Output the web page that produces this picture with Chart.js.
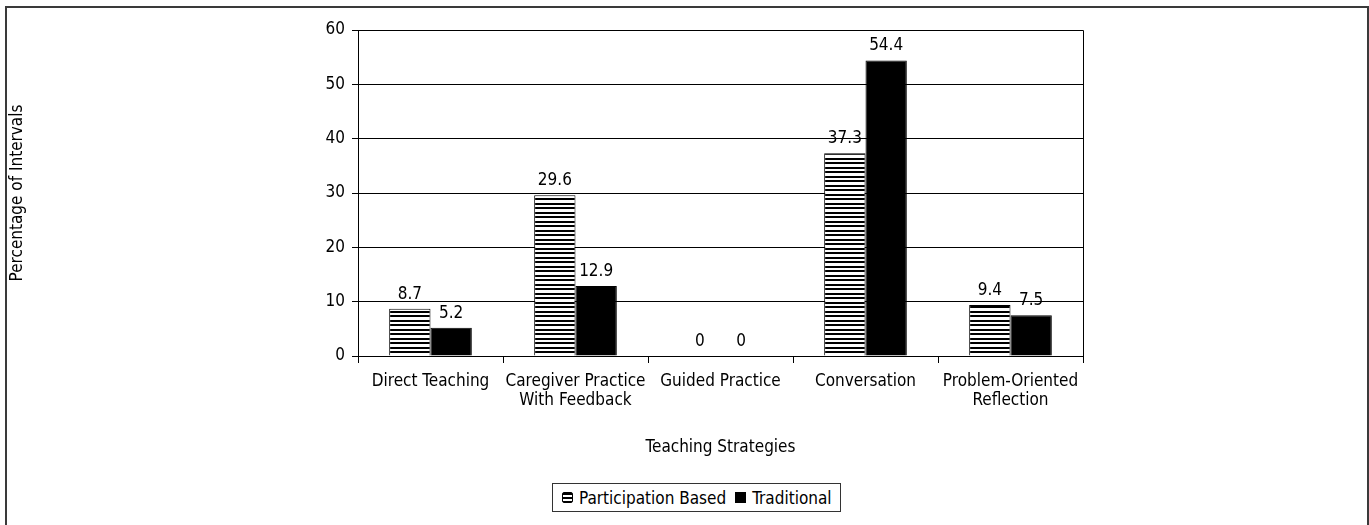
<!DOCTYPE html>
<html>
<head>
<meta charset="utf-8">
<script src="https://cdn.jsdelivr.net/npm/chart.js@4/dist/chart.umd.min.js"></script>
<style>
    html, body { margin: 0; padding: 0; background: #fff; }
    body { width: 1369px; height: 525px; position: relative; overflow: hidden; }
    .frame { position: absolute; left: 5px; top: 6px; width: 1360px; height: 600px; border: 2px solid #3a3a3a; }
    #chart { position: absolute; left: 0; top: 0; }
    .legend {
        position: absolute; left: 552px; top: 483px; height: 27px;
        border: 1px solid #333; background: #fff;
        display: flex; align-items: center; padding: 0 8px 0 9px;
        font: 17px 'DejaVu Sans Condensed', 'Liberation Sans Narrow', sans-serif; color: #000;
    }
    .legend .sw { width: 9px; height: 9px; border: 1px solid #000; margin-right: 6px; }
    .legend .striped { background: repeating-linear-gradient(#000 0 2px, #fff 2px 4px); border-radius: 2px; }
    .legend .solid { background: #000; margin-left: 9px; }
</style>
</head>
<body>
<div class="frame"></div>
<canvas id="chart" width="1369" height="525"></canvas>
<div class="legend">
    <span class="sw striped"></span><span>Participation Based</span>
    <span class="sw solid"></span><span>Traditional</span>
</div>
<script>
// values
const categories = ['Direct Teaching', ['Caregiver Practice', 'With Feedback'], 'Guided Practice', 'Conversation', ['Problem-Oriented', 'Reflection']];
const participation = [8.7, 29.6, 0, 37.3, 9.4];
const traditional = [5.2, 12.9, 0, 54.4, 7.5];
const yTicks = [0, 10, 20, 30, 40, 50, 60];

const FONT = "'DejaVu Sans Condensed', 'Liberation Sans Narrow', sans-serif";
const SIZE = 17;

// horizontal stripes for the first series
function stripes() {
    const c = document.createElement('canvas');
    c.width = 9; c.height = 9;
    const g = c.getContext('2d');
    g.fillStyle = '#fff';
    g.fillRect(0, 0, 9, 9);
    g.fillStyle = '#000';
    g.fillRect(0, 0, 9, 2);
    g.fillRect(0, 5, 9, 2);
    return g.createPattern(c, 'repeat');
}

// value above each bar
const valueLabels = {
    id: 'valueLabels',
    afterDatasetsDraw(chart) {
        const ctx = chart.ctx;
        ctx.save();
        ctx.font = SIZE + 'px ' + FONT;
        ctx.fillStyle = '#000';
        ctx.textAlign = 'center';
        ctx.textBaseline = 'alphabetic';
        chart.data.datasets.forEach((ds, i) => {
            chart.getDatasetMeta(i).data.forEach((bar, j) => {
                ctx.fillText(String(ds.data[j]), bar.x, bar.y - 10);
            });
        });
        ctx.restore();
    }
};

// top and right edge of the plot
const plotFrame = {
    id: 'plotFrame',
    afterDraw(chart) {
        const a = chart.chartArea, ctx = chart.ctx;
        ctx.save();
        ctx.strokeStyle = '#000';
        ctx.lineWidth = 1;
        ctx.beginPath();
        ctx.moveTo(a.left, a.top + 0.5);
        ctx.lineTo(a.right + 0.5, a.top + 0.5);
        ctx.lineTo(a.right + 0.5, a.bottom);
        ctx.stroke();
        ctx.restore();
    }
};

new Chart(document.getElementById('chart'), {
    type: 'bar',
    data: {
        labels: categories,
        datasets: [
            { label: 'Participation Based', data: participation, backgroundColor: stripes(), borderColor: '#000', borderWidth: 1 },
            { label: 'Traditional', data: traditional, backgroundColor: '#000', borderColor: '#000', borderWidth: 1 }
        ]
    },
    options: {
        responsive: false,
        animation: false,
        events: [],
        categoryPercentage: 0.57,
        barPercentage: 1,
        layout: { padding: { left: 0, right: 286, top: 30, bottom: 64 } },
        plugins: { legend: { display: false }, tooltip: { enabled: false } },
        scales: {
            x: {
                grid: { offset: true, drawOnChartArea: false, color: '#000', tickLength: 7 },
                border: { color: '#000' },
                ticks: { color: '#000', font: { family: FONT, size: SIZE, lineHeight: 1.12 }, maxRotation: 0, autoSkip: false, padding: 9 },
                title: { display: true, text: 'Teaching Strategies', color: '#000', font: { family: FONT, size: SIZE }, padding: 3 },
                afterFit(s) { s.height = 105; }
            },
            y: {
                min: 0, max: 60,
                afterBuildTicks(s) { s.ticks = yTicks.map(v => ({ value: v })); },
                grid: { color: '#000', tickLength: 6 },
                border: { color: '#000' },
                ticks: { color: '#000', font: { family: FONT, size: SIZE }, padding: 7 },
                title: { display: true, text: 'Percentage of Intervals', color: '#000', font: { family: FONT, size: SIZE }, padding: 7 },
                afterFit(s) { s.width = 358; }
            }
        }
    },
    plugins: [valueLabels, plotFrame]
});
</script>
</body>
</html>
